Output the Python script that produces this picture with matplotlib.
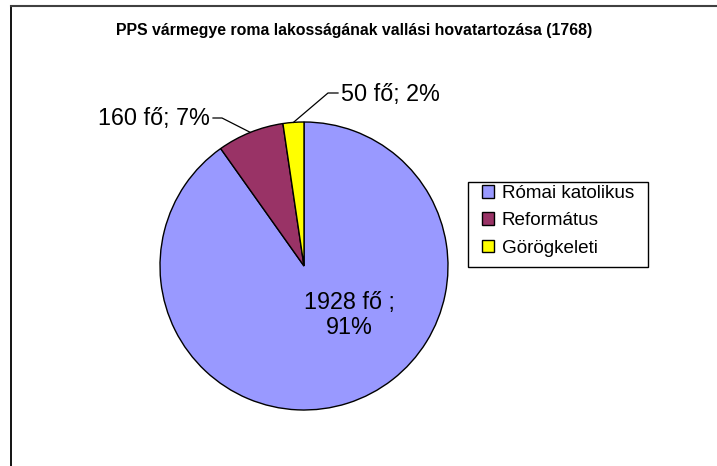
import numpy as np
import matplotlib
matplotlib.use("Agg")
import matplotlib.pyplot as plt
from matplotlib.patches import Patch, Rectangle
from matplotlib.lines import Line2D

categories = ["Római katolikus", "Református", "Görögkeleti"]
values = [1928, 160, 50]
label_texts = ["1928 fő ;\n91%", "160 fő; 7%", "50 fő; 2%"]
colors = ["#9999FF", "#993366", "#FFFF00"]
title = "PPS vármegye roma lakosságának vallási hovatartozása (1768)"

plt.rcParams['font.family'] = ['Liberation Sans', 'DejaVu Sans']

W, H = 717, 466
fig = plt.figure(figsize=(W / 100, H / 100), dpi=100)

# outer frame (left and top edges visible)
fig.add_artist(Line2D([10.5 / W, 10.5 / W], [0, 1 - 5.5 / H], color="black", lw=1.3,
                      transform=fig.transFigure))
fig.add_artist(Line2D([10.5 / W, 1], [1 - 5.5 / H, 1 - 5.5 / H], color="#404040", lw=1.5,
                      transform=fig.transFigure))

cx, cy, R = 304, 266, 144
box = 320
ax = fig.add_axes([(cx - box / 2) / W, (H - cy - box / 2) / H, box / W, box / H])
ax.axis("off")

wedges, _ = ax.pie(values, colors=colors, startangle=90, counterclock=False, radius=1,
                   wedgeprops=dict(edgecolor="black", linewidth=1.0))
lim = box / 2 / R
ax.set_xlim(-lim, lim)
ax.set_ylim(-lim, lim)
ax.set_aspect("equal")

fs_lab = 16.8
fs_leg = 13.6

def px2data(x, y):
    disp = fig.transFigure.transform((x / W, 1 - y / H))
    return ax.transData.inverted().transform(disp)

# big slice label inside
tx, ty = px2data(349, 315)
ax.text(tx, ty, label_texts[0], ha="center", va="center", fontsize=fs_lab, linespacing=1.12)

def outside(i, text_xy, elbow_xy, ha):
    w = wedges[i]
    ang = np.deg2rad((w.theta1 + w.theta2) / 2)
    ex, ey = np.cos(ang), np.sin(ang)
    tx, ty = px2data(*text_xy)
    bx, by = px2data(*elbow_xy)
    ax.plot([ex, bx, tx], [ey, by, ty], color="black", lw=0.9, clip_on=False)
    pad = 3 if ha == "left" else -3
    lx, ly = px2data(text_xy[0] + pad, text_xy[1] + 1)
    ax.text(lx, ly, label_texts[i], ha=ha, va="center", fontsize=fs_lab)

outside(1, (213, 118), (222, 118), "right")
outside(2, (338, 93), (328, 93), "left")

fig.text(354 / W, 1 - 31 / H, title, ha="center", va="center", fontsize=11.4,
         fontweight="bold")

# legend frame
lx0, ly0, lx1, ly1 = 468, 182, 648, 267
fig.add_artist(Rectangle((lx0 / W, 1 - ly1 / H), (lx1 - lx0) / W, (ly1 - ly0) / H,
                         transform=fig.transFigure, facecolor="white", edgecolor="black",
                         lw=1.0, zorder=3))

handles = [Patch(facecolor=c, edgecolor="black", linewidth=1.0) for c in colors]
leg = fig.legend(handles, categories, loc="upper left",
                 bbox_to_anchor=(482 / W, 1 - 185 / H), fontsize=fs_leg,
                 frameon=False, handlelength=0.65, handleheight=0.65,
                 handletextpad=0.4, labelspacing=0.55, borderpad=0, borderaxespad=0)
leg.set_zorder(4)

fig.savefig("out.png", dpi=100, facecolor="white")
